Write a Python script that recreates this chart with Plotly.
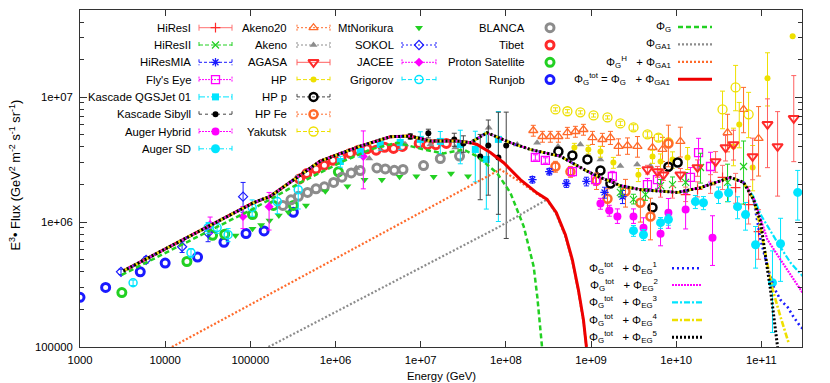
import plotly.graph_objects as go

# ---------------- data (energy in GeV, E^3*flux) ----------------
runjob_E = [1.0e3, 2.0e3, 5.1e3, 1.0e4, 2.4e4, 4.9e4, 8.9e4, 1.45e5, 3.2e5]
runjob_F = [2.5e5, 3.0e5, 4.0e5, 4.7e5, 5.25e5, 6.9e5, 8.1e5, 8.5e5, 1.2e6]

proton_E = [3.1e3, 1.8e4, 3.6e4, 5.0e4, 1.06e5, 1.87e5, 3.2e5, 1.08e6]
proton_F = [2.73e5, 4.84e5, 7.85e5, 8.0e5, 1.15e6, 1.36e6, 1.36e6, 2.53e6]

tibet_E = [3.78e5, 4.6e5, 5.9e5, 7.4e5, 9.3e5, 1.16e6, 1.49e6, 1.86e6, 2.34e6, 3.0e6,
           3.77e6, 4.8e6, 6.1e6, 9.6e6, 1.2e7, 1.51e7, 2.0e7]
tibet_F = [2.22e6, 2.45e6, 2.67e6, 2.86e6, 3.13e6, 3.31e6, 3.55e6, 3.77e6, 3.87e6, 3.77e6,
           3.98e6, 3.89e6, 4.04e6, 4.27e6, 4.17e6, 4.17e6, 4.27e6]

blanca_E = [2.41e5, 3.0e5, 3.67e5, 4.69e5, 5.9e5, 7.4e5, 9.5e5, 1.19e6, 1.53e6, 1.95e6,
            3.06e6, 3.84e6, 4.9e6, 6.2e6, 1.08e7, 1.7e7, 2.86e7]
blanca_F = [1.36e6, 1.51e6, 1.61e6, 1.73e6, 1.85e6, 1.92e6, 2.08e6, 2.29e6, 2.48e6, 2.59e6,
            2.72e6, 2.67e6, 2.6e6, 2.64e6, 2.84e6, 3.23e6, 3.38e6]

norikura_E = [6.7e4, 1.06e5, 1.34e5, 1.68e5, 2.16e5, 2.8e5, 4.5e5, 7.6e5, 1.38e6, 2.19e6,
              3.5e6, 5.65e6, 8.9e6, 1.42e7, 2.27e7, 3.6e7]
norikura_F = [7.8e5, 8.87e5, 9.47e5, 1.03e6, 1.13e6, 1.2e6, 1.36e6, 1.77e6, 1.94e6, 2.19e6,
              2.19e6, 2.31e6, 2.33e6, 2.31e6, 2.45e6, 2.33e6]

akeno_E = [1.75e6, 2.49e6, 6.6e6, 1.3e7, 2.55e7, 4.04e7, 6.3e7, 1.36e8, 2.33e8, 4.1e8,
           7.5e8, 1.29e9, 2.21e9, 3.48e9, 4.98e9]
akeno_F = [2.72e6, 3.24e6, 4.19e6, 4.19e6, 3.96e6, 4.35e6, 5.7e6, 4.19e6, 4.32e6, 4.04e6,
           4.19e6, 3.18e6, 2.81e6, 2.89e6, 2.81e6]

akeno20_E = [2.1e8, 2.69e8, 3.33e8, 4.14e8, 5.28e8, 6.56e8, 8.15e8, 1.04e9, 1.36e9, 1.69e9,
             2.1e9, 2.68e9, 3.51e9, 5.27e9, 6.9e9, 1.12e10, 4.01e10, 6.18e10, 9.27e10]
akeno20_F = [5.42e6, 4.85e6, 4.85e6, 4.85e6, 5.22e6, 5.32e6, 5.52e6, 4.76e6, 4.59e6, 4.76e6,
             4.04e6, 4.11e6, 4.04e6, 3.96e6, 3.82e6, 4.43e6, 5.22e6, 8.0e6, 4.68e6]
akeno20_eu = [0.1, 0.1, 0.1, 0.1, 0.1, 0.1, 0.1, 0.12, 0.12, 0.12, 0.15, 0.15, 0.2, 0.2, 0.25,
              0.3, 0.4, 0.5, 0.8]
akeno20_ed = [0.1, 0.1, 0.1, 0.1, 0.1, 0.1, 0.1, 0.12, 0.12, 0.12, 0.15, 0.15, 0.18, 0.18, 0.2,
              0.25, 0.3, 0.35, 0.5]

yakutsk_E = [3.82e8, 5.28e8, 7.5e8, 1.07e9, 1.56e9, 2.21e9, 3.15e9, 4.6e9, 6.19e9, 8.1e9,
             3.5e10, 4.98e10, 7.08e10]
yakutsk_F = [8.0e6, 7.73e6, 7.57e6, 7.16e6, 6.9e6, 6.18e6, 5.74e6, 5.04e6, 4.76e6, 4.35e6,
             8.0e6, 1.2e7, 7.3e6]
yakutsk_eu = [0.03, 0.03, 0.03, 0.03, 0.03, 0.04, 0.05, 0.05, 0.06, 0.08, 0.4, 0.5, 0.5]
yakutsk_ed = [0.03, 0.03, 0.03, 0.03, 0.03, 0.04, 0.05, 0.05, 0.06, 0.08, 0.3, 0.35, 0.35]

hp_E = [6.38e8, 9.3e8, 1.29e9, 1.83e9, 3.6e9, 5.27e9, 6.55e9, 9.06e9, 1.36e10, 4.7e10,
        5.5e10, 7.9e10, 1.18e11, 2.33e11]
hp_F = [3.96e6, 3.82e6, 3.68e6, 3.0e6, 2.4e6, 3.36e6, 3.06e6, 3.18e6, 3.3e6, 4.04e6,
        6.06e6, 2.74e6, 1.42e7, 3.08e7]
hp_eu = [0.08, 0.08, 0.1, 0.1, 0.12, 0.12, 0.15, 0.15, 0.2, 0.4, 0.5, 0.5, 0.6, 0.0]
hp_ed = [0.08, 0.08, 0.1, 0.1, 0.12, 0.12, 0.15, 0.15, 0.2, 0.3, 0.35, 0.35, 0.4, 0.0]

hpp_E = [4.14e8, 6.04e8, 9.08e8, 1.29e9, 1.69e9, 5.27e9, 8.1e9, 1.04e10]
hpp_F = [3.68e6, 3.42e6, 3.18e6, 2.59e6, 2.04e6, 1.31e6, 2.78e6, 3.0e6]

hpfe_E = [3.82e8, 5.73e8, 1.16e9, 1.56e9, 2.54e9, 3.8e9, 4.99e9, 8.1e9]
hpfe_F = [2.79e6, 2.54e6, 2.15e6, 1.54e6, 1.76e6, 1.43e6, 1.11e6, 4.27e6]
hpfe_eu = [0.1, 0.1, 0.15, 0.2, 0.25, 0.3, 0.4, 0.4]
hpfe_ed = [0.1, 0.1, 0.15, 0.2, 0.25, 0.3, 0.35, 0.35]

agasa_E = [4.6e9, 6.03e9, 7.1e9, 1.12e10, 1.78e10, 2.9e10, 3.8e10, 4.71e10, 7.89e10, 1.18e11,
           1.55e11, 2.4e11]
agasa_F = [2.64e6, 2.54e6, 2.4e6, 2.4e6, 2.74e6, 3.06e6, 3.96e6, 4.19e6, 3.36e6, 6.07e6,
           4.04e6, 6.78e6]
agasa_eu = [0.08, 0.1, 0.1, 0.12, 0.15, 0.2, 0.25, 0.3, 0.4, 0.6, 0.9, 1.2]
agasa_ed = [0.08, 0.1, 0.1, 0.12, 0.15, 0.18, 0.22, 0.25, 0.35, 0.55, 0.6, 0.55]

hires1_E = [6.55e9, 9.06e9, 1.29e10, 1.78e10, 2.53e10, 3.5e10, 4.98e10, 7.08e10, 9.27e10]
hires1_F = [1.76e6, 1.73e6, 1.66e6, 1.83e6, 2.0e6, 2.28e6, 1.89e6, 1.38e6, 8.4e5]
hires1_eu = [0.12, 0.12, 0.15, 0.15, 0.2, 0.25, 0.3, 0.4, 0.5]
hires1_ed = [0.1, 0.1, 0.12, 0.13, 0.15, 0.2, 0.25, 0.3, 0.4]

hires2_E = [2.21e9, 3.15e9, 4.36e9, 6.55e9, 9.06e9, 1.29e10, 1.93e10, 4.01e10, 6.18e10]
hires2_F = [1.73e6, 1.52e6, 1.66e6, 1.96e6, 2.0e6, 2.08e6, 2.74e6, 2.08e6, 2.79e6]
hires2_eu = [0.1, 0.1, 0.12, 0.12, 0.15, 0.2, 0.3, 0.4, 0.6]
hires2_ed = [0.08, 0.08, 0.1, 0.1, 0.13, 0.17, 0.25, 0.3, 0.5]

mia_E = [2.05e8, 3.24e8, 5.14e8, 8.83e8, 1.44e9, 2.34e9]
mia_F = [2.19e6, 2.54e6, 2.04e6, 2.12e6, 1.73e6, 1.6e6]
mia_eu = [0.06, 0.06, 0.07, 0.08, 0.1, 0.12]
mia_ed = [0.06, 0.06, 0.07, 0.08, 0.1, 0.12]

flyseye_E = [2.22e8, 2.91e8, 6.04e8, 1.13e9, 1.78e9, 4.6e9, 6.03e9, 1.47e10, 1.83e10, 2.53e10]
flyseye_F = [3.3e6, 3.12e6, 2.54e6, 2.19e6, 2.32e6, 2.0e6, 2.19e6, 2.28e6, 3.61e6, 2.79e6]
flyseye_eu = [0.05, 0.05, 0.08, 0.1, 0.1, 0.12, 0.15, 0.2, 0.3, 0.3]
flyseye_ed = [0.05, 0.05, 0.08, 0.1, 0.1, 0.12, 0.15, 0.2, 0.25, 0.25]

kqgs_E = [1.14e6, 1.95e6, 3.35e6, 5.75e6, 9.9e6, 1.7e7, 2.92e7, 4.38e7, 5.9e7, 8.17e7]
kqgs_F = [3.06e6, 3.68e6, 4.19e6, 4.35e6, 4.6e6, 4.43e6, 4.19e6, 3.82e6, 3.18e6, 4.6e6]
kqgs_eu = [0.1, 0.1, 0.1, 0.12, 0.15, 0.2, 0.3, 0.4, 0.65, 0.67]
kqgs_ed = [0.1, 0.1, 0.1, 0.12, 0.15, 0.2, 0.3, 0.45, 0.6, 0.78]

ksib_E = [7.55e6, 1.23e7, 2.48e7, 3.17e7, 5.0e7, 6.22e7, 8.17e7, 1.01e8]
ksib_F = [4.86e6, 5.14e6, 4.6e6, 4.27e6, 3.36e6, 4.11e6, 3.3e6, 4.11e6]
ksib_eu = [0.05, 0.08, 0.12, 0.15, 0.5, 0.6, 1.3, 0.85]
ksib_ed = [0.05, 0.08, 0.12, 0.15, 0.55, 0.6, 0.65, 0.82]

augh_E = [1.29e9, 1.64e9, 2.04e9, 3.15e9, 4.13e9, 6.55e9, 8.1e9, 1.29e10, 2.67e10]
augh_F = [1.41e6, 1.24e6, 1.11e6, 1.11e6, 9.03e5, 8.08e5, 1.19e6, 1.26e6, 7.5e5]
augh_eu = [0.1, 0.1, 0.15, 0.15, 0.2, 0.25, 0.3, 0.35, 0.5]
augh_ed = [0.1, 0.1, 0.12, 0.12, 0.15, 0.2, 0.25, 0.3, 0.4]

augsd_E = [3.15e9, 4.13e9, 6.55e9, 8.1e9, 1.68e10, 2.09e10, 3.14e10, 4.12e10, 5.25e10, 6.52e10,
           8.55e10, 1.35e11, 1.68e11, 2.67e11]
augsd_F = [8.55e5, 7.93e5, 9.9e5, 1.05e6, 1.46e6, 1.43e6, 1.66e6, 1.72e6, 1.33e6, 1.15e6,
           6.59e5, 3.27e5, 6.71e5, 1.73e6]
augsd_eu = [0.1, 0.1, 0.1, 0.1, 0.12, 0.12, 0.15, 0.15, 0.2, 0.25, 0.4, 0.8, 0.6, 0.5]
augsd_ed = [0.1, 0.1, 0.1, 0.1, 0.12, 0.12, 0.15, 0.15, 0.2, 0.25, 0.35, 0.6, 0.5, 0.4]

sokol_E = [3.03e3, 5.97e3, 1.58e4, 3.19e4, 8.22e4]
sokol_F = [4.0e5, 4.99e5, 6.35e5, 8.2e5, 1.6e6]
sokol_eu = [0.05, 0.06, 0.1, 0.15, 0.3]
sokol_ed = [0.05, 0.06, 0.1, 0.15, 0.25]

jacee_E = [3.37e4, 8.2e4, 1.66e5, 2.12e6]
jacee_F = [9.55e5, 1.11e6, 1.33e6, 3.36e6]
jacee_eu = [0.15, 0.2, 0.3, 0.6]
jacee_ed = [0.15, 0.2, 0.35, 0.45]

grigorov_E = [4.2e3, 2.01e4, 3.19e4, 4.07e4, 5.48e4, 1.05e5, 2.07e5, 3.65e5]
grigorov_F = [3.27e5, 5.69e5, 9.04e5, 9.04e5, 7.93e5, 1.31e6, 1.46e6, 1.82e6]
grigorov_eu = [0.05, 0.08, 0.1, 0.1, 0.12, 0.15, 0.2, 0.3]
grigorov_ed = [0.05, 0.08, 0.1, 0.1, 0.12, 0.15, 0.2, 0.3]

# ---------------- model curves ----------------
phiG_E = [3.09e3, 1.08e5, 3.85e5, 1.14e6, 2.56e6, 5.27e6, 1.08e7, 1.86e7, 3.19e7, 4.59e7,
          7.87e7, 1.13e8, 1.62e8, 2.12e8, 2.34e8, 2.66e8]
phiG_F = [3.78e5, 1.28e6, 2.07e6, 3.0e6, 3.82e6, 4.33e6, 3.82e6, 3.55e6, 3.82e6, 3.36e6,
          2.48e6, 1.72e6, 9.25e5, 4.42e5, 2.52e5, 1.0e5]

phiGA1_E = [1.63e5, 7.87e7, 3.05e8, 3.92e8, 5.0e8, 6.04e8, 7.11e8, 8.15e8, 8.83e8]
phiGA1_F = [1.0e5, 8.98e5, 1.52e6, 1.15e6, 7.65e5, 4.82e5, 2.77e5, 1.59e5, 1.0e5]

phiGH_E = [1.2e4, 8.6e7, 1.48e8, 2.33e8, 3.05e8, 3.92e8, 5.0e8, 6.04e8, 7.11e8, 8.15e8, 8.83e8]
phiGH_F = [1.0e5, 2.64e6, 2.1e6, 1.68e6, 1.5e6, 1.17e6, 7.8e5, 4.9e5, 2.8e5, 1.62e5, 1.0e5]

phitot_E = [3.23e3, 9.53e3, 1.09e5, 1.71e5, 6.61e5, 1.95e6, 4.4e6, 7.55e6, 1.3e7, 2.67e7,
            3.83e7, 4.59e7, 6.58e7, 9.42e7, 1.48e8, 2.33e8, 3.05e8, 3.92e8, 5.0e8, 6.04e8,
            7.11e8, 8.15e8, 8.83e8]
phitot_F = [4.07e5, 6.01e5, 1.43e6, 1.61e6, 3.08e6, 4.06e6, 4.83e6, 4.89e6, 4.46e6, 4.46e6,
            4.33e6, 4.19e6, 3.61e6, 2.99e6, 2.19e6, 1.71e6, 1.52e6, 1.19e6, 7.93e5, 5.0e5,
            2.87e5, 1.65e5, 1.0e5]

# common part of Phi_tot + Phi_EG^n (all five coincide here)
eg_base_E = [3.23e3, 9.53e3, 1.09e5, 1.71e5, 6.61e5, 1.95e6, 4.4e6, 7.55e6, 1.3e7, 2.67e7,
             3.83e7, 6.01e7, 1.13e8, 1.94e8, 4.37e8, 9.0e8, 1.29e9, 2.21e9, 3.8e9, 1.04e10,
             1.93e10, 4.35e10, 6.18e10]
eg_base_F = [4.07e5, 6.01e5, 1.43e6, 1.61e6, 3.08e6, 4.06e6, 4.83e6, 4.89e6, 4.46e6, 4.46e6,
             4.33e6, 5.2e6, 4.33e6, 3.82e6, 3.37e6, 2.56e6, 2.28e6, 1.96e6, 1.82e6, 1.73e6,
             1.89e6, 2.28e6, 2.08e6]
eg1_E = [8.09e10, 9.79e10, 1.18e11, 1.39e11, 1.68e11, 2.03e11, 2.39e11, 2.89e11, 3.59e11]
eg1_F = [1.52e6, 7.23e5, 4.39e5, 3.03e5, 2.38e5, 2.09e5, 1.74e5, 1.45e5, 1.29e5]
eg2_E = [8.09e10, 9.79e10, 1.18e11, 1.68e11, 2.39e11, 3.59e11]
eg2_F = [1.57e6, 1.05e6, 7.23e5, 5.0e5, 3.45e5, 2.3e5]
eg3_E = [8.09e10, 9.79e10, 1.55e11, 2.2e11, 3.59e11]
eg3_F = [1.6e6, 1.15e6, 6.84e5, 4.73e5, 3.27e5]
eg4_E = [8.09e10, 9.79e10, 1.15e11, 1.36e11, 1.68e11, 2.09e11]
eg4_F = [1.52e6, 9.02e5, 5.0e5, 2.87e5, 1.74e5, 1.08e5]
eg5_E = [8.09e10, 9.79e10, 1.09e11, 1.28e11, 1.43e11, 1.55e11]
eg5_F = [1.52e6, 1.01e6, 6.01e5, 2.87e5, 1.56e5, 1.0e5]

x_tickvals = [1e3, 1e4, 1e5, 1e6, 1e7, 1e8, 1e9, 1e10, 1e11]
x_ticktext = ["1000", "10000", "100000", "1e+06", "1e+07", "1e+08", "1e+09", "1e+10", "1e+11"]
y_tickvals = [1e5, 1e6, 1e7]
y_ticktext = ["100000", "1e+06", "1e+07"]

# ---------------- styles ----------------
RED = "#ff2a2a"; GREEN = "#22d022"; BLUE = "#1a1aff"; MAG = "#ff00ff"; CYAN = "#00e5ff"
GREY = "#8c8c8c"; ORANGE = "#ff6a2a"; YELLOW = "#eee000"; BLACK = "#000000"

S = {
    "HiResI": dict(c=RED, ec="#ff7070", sym="cross-thin-open", sz=7, lw=1.2, dash="solid"),
    "HiResII": dict(c=GREEN, ec=GREEN, sym="x-thin-open", sz=7, lw=1.2, dash="4px,2px"),
    "HiResMIA": dict(c=BLUE, ec=BLUE, sym="asterisk-open", sz=7, lw=1.3, dash="3px,2px"),
    "Fly's Eye": dict(c=MAG, ec=MAG, sym="square-open", sz=8, lw=1.3, dash="2px,1px"),
    "Kascade QGSJet 01": dict(c=CYAN, ec=CYAN, sym="square", sz=7, lw=0, dash="6px,2px,2px,2px"),
    "Kascade Sibyll": dict(c=BLACK, ec="#444444", sym="circle", sz=6, lw=0, dash="3px,3px"),
    "Auger Hybrid": dict(c=MAG, ec=MAG, sym="circle", sz=8, lw=0, dash="2px,1px"),
    "Auger SD": dict(c=CYAN, ec=CYAN, sym="circle", sz=9, lw=0, dash="5px,2px,1px,2px"),
    "Akeno20": dict(c=ORANGE, ec=ORANGE, sym="triangle-up-open", sz=8, lw=1.3, dash="2px,2px"),
    "Akeno": dict(c=GREY, ec=GREY, sym="triangle-up", sz=7, lw=0, dash="2px,2px"),
    "AGASA": dict(c=RED, ec="#ff6060", sym="triangle-down-open", sz=9, lw=2, dash="solid"),
    "HP": dict(c=YELLOW, ec=YELLOW, sym="circle", sz=6, lw=0, dash="4px,2px"),
    "HP p": dict(c=BLACK, ec="#444444", sym="circle-open", sz=8, lw=2.5, dash="3px,2px"),
    "HP Fe": dict(c=ORANGE, ec=ORANGE, sym="circle-open", sz=8, lw=2.5, dash="2px,2px"),
    "Yakutsk": dict(c=YELLOW, ec=YELLOW, sym="circle-open", sz=9, lw=1.3, dash="4px,2px"),
    "MtNorikura": dict(c=GREEN, ec=GREEN, sym="triangle-down", sz=7, lw=0, dash=None),
    "SOKOL": dict(c=BLUE, ec=BLUE, sym="diamond-open", sz=7, lw=1.2, dash="2px,2px"),
    "JACEE": dict(c=MAG, ec=MAG, sym="diamond", sz=7, lw=0, dash="2px,1px"),
    "Grigorov": dict(c=CYAN, ec=CYAN, sym="circle-open", sz=8, lw=1.5, dash="4px,2px"),
    "BLANCA": dict(c=GREY, ec=GREY, sym="circle-open", sz=8, lw=3, dash=None),
    "Tibet": dict(c=RED, ec=RED, sym="circle-open", sz=8, lw=3, dash=None),
    "Proton Satellite": dict(c=GREEN, ec=GREEN, sym="circle-open", sz=8, lw=3, dash=None),
    "Runjob": dict(c=BLUE, ec=BLUE, sym="circle-open", sz=8, lw=3, dash=None),
}

M = {
    "G": dict(c=GREEN, w=2.5, dash="5px,3px"),
    "GA1": dict(c=GREY, w=2.2, dash="2px,2px"),
    "GH": dict(c=ORANGE, w=2.2, dash="2px,2px"),
    "tot": dict(c="#ee0000", w=3, dash="solid"),
    "EG1": dict(c=BLUE, w=2.6, dash="2px,3px"),
    "EG2": dict(c=MAG, w=2.2, dash="2px,1px"),
    "EG3": dict(c=CYAN, w=2.2, dash="6px,2px,2px,2px"),
    "EG4": dict(c=YELLOW, w=2.6, dash="6px,2px,2px,2px"),
    "EG5": dict(c=BLACK, w=3, dash="2px,2px"),
}

fig = go.Figure()


def marker_of(st):
    return dict(symbol=st["sym"], size=st["sz"], color=st["c"],
                line=dict(color=st["c"], width=st["lw"]))


def add_points(name, E, F, eu=None, ed=None):
    st = S[name]
    kw = dict(x=E, y=F, mode="markers", marker=marker_of(st), hoverinfo="skip", name=name)
    if eu is not None:
        kw["error_y"] = dict(type="data", symmetric=False,
                             array=[f * u for f, u in zip(F, eu)],
                             arrayminus=[f * d for f, d in zip(F, ed)],
                             color=st["ec"], thickness=1, width=2.5)
    fig.add_trace(go.Scatter(**kw))


add_points("Runjob", runjob_E, runjob_F)
add_points("Proton Satellite", proton_E, proton_F)
add_points("BLANCA", blanca_E, blanca_F)
add_points("Tibet", tibet_E, tibet_F)
add_points("MtNorikura", norikura_E, norikura_F)
add_points("SOKOL", sokol_E, sokol_F, sokol_eu, sokol_ed)
add_points("JACEE", jacee_E, jacee_F, jacee_eu, jacee_ed)
add_points("Grigorov", grigorov_E, grigorov_F, grigorov_eu, grigorov_ed)
add_points("Akeno", akeno_E, akeno_F)
add_points("Kascade QGSJet 01", kqgs_E, kqgs_F, kqgs_eu, kqgs_ed)
add_points("Kascade Sibyll", ksib_E, ksib_F, ksib_eu, ksib_ed)
add_points("Akeno20", akeno20_E, akeno20_F, akeno20_eu, akeno20_ed)
add_points("Yakutsk", yakutsk_E, yakutsk_F, yakutsk_eu, yakutsk_ed)
add_points("HP", hp_E, hp_F, hp_eu, hp_ed)
add_points("HP p", hpp_E, hpp_F)
add_points("HP Fe", hpfe_E, hpfe_F, hpfe_eu, hpfe_ed)
add_points("HiResMIA", mia_E, mia_F, mia_eu, mia_ed)
add_points("Fly's Eye", flyseye_E, flyseye_F, flyseye_eu, flyseye_ed)
add_points("HiResII", hires2_E, hires2_F, hires2_eu, hires2_ed)
add_points("HiResI", hires1_E, hires1_F, hires1_eu, hires1_ed)
add_points("AGASA", agasa_E, agasa_F, agasa_eu, agasa_ed)
add_points("Auger Hybrid", augh_E, augh_F, augh_eu, augh_ed)
add_points("Auger SD", augsd_E, augsd_F, augsd_eu, augsd_ed)


def add_curve(key, E, F):
    m = M[key]
    fig.add_trace(go.Scatter(x=E, y=F, mode="lines", hoverinfo="skip",
                             line=dict(color=m["c"], width=m["w"], dash=m["dash"])))


add_curve("GA1", phiGA1_E, phiGA1_F)
add_curve("GH", phiGH_E, phiGH_F)
add_curve("G", phiG_E, phiG_F)
add_curve("tot", phitot_E, phitot_F)
add_curve("EG1", eg_base_E + eg1_E, eg_base_F + eg1_F)
add_curve("EG2", eg_base_E + eg2_E, eg_base_F + eg2_F)
add_curve("EG3", eg_base_E + eg3_E, eg_base_F + eg3_F)
add_curve("EG4", eg_base_E + eg4_E, eg_base_F + eg4_F)
add_curve("EG5", eg_base_E + eg5_E, eg_base_F + eg5_F)

# ---------------- hand-made legend (pixel coords on overlay axes) ----------------
FONT = dict(family="Liberation Sans, Arial, sans-serif", size=11.3, color="black")
annotations = []
rows = [27.7, 45.0, 62.3, 79.6, 96.9, 114.2, 131.5, 148.8]


def leg_text(xr, y, txt):
    annotations.append(dict(x=xr, y=y, xref="x2", yref="y2", text=txt, showarrow=False,
                            xanchor="right", yanchor="middle", font=FONT))


def leg_data(name, xr, x0, x1, y, line=True):
    st = S[name]
    leg_text(xr, y, name)
    xc = (x0 + x1) / 2
    if line and st["dash"] is not None:
        fig.add_trace(go.Scatter(x=[x0, x1, None, x0, x0, None, x1, x1],
                                 y=[y, y, None, y - 3, y + 3, None, y - 3, y + 3],
                                 xaxis="x2", yaxis="y2", mode="lines", hoverinfo="skip",
                                 line=dict(color=st["ec"], width=1, dash=st["dash"])))
    fig.add_trace(go.Scatter(x=[xc], y=[y], xaxis="x2", yaxis="y2", mode="markers",
                             hoverinfo="skip", marker=marker_of(st)))


def leg_model(key, xr, x0, x1, y, txt):
    m = M[key]
    leg_text(xr, y, txt)
    fig.add_trace(go.Scatter(x=[x0, x1], y=[y, y], xaxis="x2", yaxis="y2", mode="lines",
                             hoverinfo="skip",
                             line=dict(color=m["c"], width=m["w"], dash=m["dash"])))


col1 = ["HiResI", "HiResII", "HiResMIA", "Fly's Eye", "Kascade QGSJet 01", "Kascade Sibyll",
        "Auger Hybrid", "Auger SD"]
col2 = ["Akeno20", "Akeno", "AGASA", "HP", "HP p", "HP Fe", "Yakutsk"]
col3 = ["MtNorikura", "SOKOL", "JACEE", "Grigorov"]
col4 = ["BLANCA", "Tibet", "Proton Satellite", "Runjob"]
for i, n in enumerate(col1):
    leg_data(n, 193, 199, 232, rows[i])
for i, n in enumerate(col2):
    leg_data(n, 288.5, 297, 330, rows[i])
for i, n in enumerate(col3):
    leg_data(n, 395.5, 402, 436, rows[i])
for i, n in enumerate(col4):
    leg_data(n, 526.5, 545, 555, rows[i], line=False)

leg_model("G", 672.5, 678, 712, 27.0, "Φ<sub>G</sub>")
leg_model("GA1", 672.5, 678, 712, 44.3, "Φ<sub>GA1</sub>")
leg_model("GH", 672.5, 678, 712, 61.9, "Φ<sub>G</sub><sup>H</sup>   + Φ<sub>GA1</sub>")
leg_model("tot", 672.5, 678, 712, 79.3,
          "Φ<sub>G</sub><sup>tot</sup> = Φ<sub>G</sub>   + Φ<sub>GA1</sub>")
eg_rows = [268.3, 285.0, 302.3, 320.0, 337.3]
for i, k in enumerate(["EG1", "EG2", "EG3", "EG4", "EG5"]):
    leg_model(k, 660, 672, 702, eg_rows[i],
              "Φ<sub>G</sub><sup>tot</sup>   + Φ<sub>EG</sub><sup>%d</sup>" % (i + 1))

# axis titles (paper coordinates; plot area spans x 80..802, y 10..347 px)
annotations.append(dict(x=0.5, y=-0.086, xref="paper", yref="paper", text="Energy (GeV)",
                        showarrow=False, xanchor="center", yanchor="middle", font=FONT))
annotations.append(dict(x=-0.09, y=0.509, xref="paper", yref="paper", textangle=-90,
                        text="E<sup>3</sup>• Flux (GeV<sup>2</sup> m<sup>-2</sup> s<sup>-1</sup> sr<sup>-1</sup>)",
                        showarrow=False, xanchor="center", yanchor="middle",
                        font=dict(family=FONT["family"], size=12.8, color="black")))

y_minor = [k * 10 ** p for p in (5, 6) for k in range(2, 10)] + [2e7, 3e7, 4e7]

fig.update_layout(
    width=830, height=383,
    margin=dict(l=80, r=28, t=10, b=36),
    paper_bgcolor="white", plot_bgcolor="white",
    showlegend=False,
    font=FONT,
    annotations=annotations,
    xaxis=dict(type="log", range=[3, 11.4771], tickvals=x_tickvals, ticktext=x_ticktext,
               ticks="inside", ticklen=6, tickcolor="#333", showline=True, linecolor="#333",
               linewidth=1, mirror="ticks", showgrid=False, zeroline=False,
               ticklabelstandoff=2, tickfont=FONT, automargin=False),
    yaxis=dict(type="log", range=[5, 7.699], tickvals=y_tickvals, ticktext=y_ticktext,
               ticks="inside", ticklen=7, tickcolor="#333", showline=True, linecolor="#333",
               linewidth=1, mirror="ticks", showgrid=False, zeroline=False,
               ticklabelstandoff=4, tickfont=FONT, automargin=False,
               minor=dict(ticks="inside", ticklen=4, tickcolor="#333", tickvals=y_minor,
                          showgrid=False)),
    xaxis2=dict(overlaying="x", anchor="y2", range=[80, 802], visible=False, fixedrange=True),
    yaxis2=dict(overlaying="y", anchor="x2", range=[347, 10], visible=False, fixedrange=True),
)

fig.write_html("out.html", config={"displayModeBar": False},
               post_script="document.body.style.margin='0px';document.body.style.padding='0px';"
                           "document.body.style.overflow='hidden';")
